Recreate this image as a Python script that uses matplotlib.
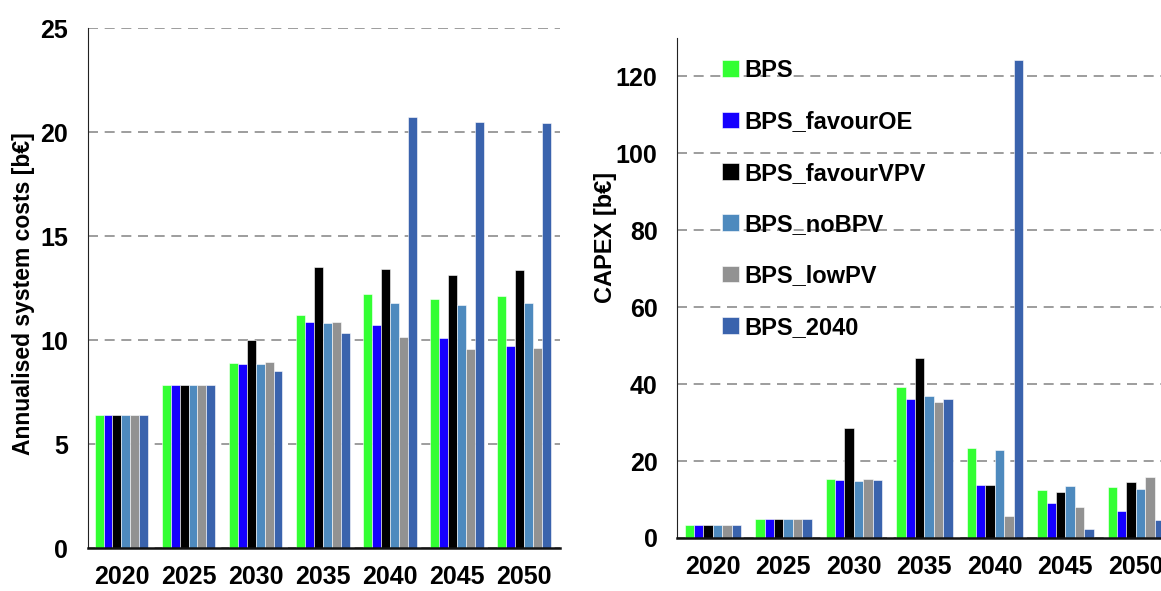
import matplotlib
matplotlib.use("Agg")
import matplotlib.pyplot as plt
import numpy as np

years = ["2020", "2025", "2030", "2035", "2040", "2045", "2050"]
scenarios = ["BPS", "BPS_favourOE", "BPS_favourVPV", "BPS_noBPV", "BPS_lowPV", "BPS_2040"]
colors = ["#33FF33", "#1500FF", "#000000", "#4E8ABE", "#929292", "#3A63AD"]

# Annualised system costs [b€]
annual_BPS = [6.4, 7.83, 8.91, 11.21, 12.23, 12.01, 12.14]
annual_favourOE = [6.4, 7.83, 8.86, 10.89, 10.76, 10.11, 9.73]
annual_favourVPV = [6.4, 7.83, 10.0, 13.55, 13.41, 13.13, 13.39]
annual_noBPV = [6.4, 7.83, 8.84, 10.83, 11.81, 11.70, 11.79]
annual_lowPV = [6.4, 7.83, 8.95, 10.89, 10.18, 9.58, 9.64]
annual_2040 = [6.4, 7.83, 8.53, 10.36, 20.74, 20.49, 20.45]

# CAPEX [b€]
capex_BPS = [3.5, 4.9, 15.3, 39.2, 23.5, 12.5, 13.3]
capex_favourOE = [3.5, 4.9, 15.0, 36.0, 13.7, 9.1, 7.0]
capex_favourVPV = [3.5, 4.9, 28.5, 46.7, 13.7, 12.0, 14.5]
capex_noBPV = [3.5, 4.9, 14.8, 37.0, 22.8, 13.6, 12.7]
capex_lowPV = [3.5, 4.9, 15.4, 35.3, 5.7, 8.0, 15.8]
capex_2040 = [3.5, 4.9, 15.0, 36.0, 124.3, 2.4, 4.7]

annual = [annual_BPS, annual_favourOE, annual_favourVPV, annual_noBPV, annual_lowPV, annual_2040]
capex = [capex_BPS, capex_favourOE, capex_favourVPV, capex_noBPV, capex_lowPV, capex_2040]

plt.rcParams["font.family"] = ["Liberation Sans", "DejaVu Sans"]
plt.rcParams["font.weight"] = "bold"

fig = plt.figure(figsize=(11.61, 5.91), dpi=100)
ax1 = fig.add_axes([0.0754, 0.0721, 0.407, 0.880])
ax2 = fig.add_axes([0.5831, 0.0897, 0.4169, 0.8465])

bw = 0.8 / 6
x = np.arange(len(years))

def style(ax, data, ylim, yticks, xlim, ylabel, ylsize):
    for i, (vals, c) in enumerate(zip(data, colors)):
        ax.bar(x - 0.4 + bw * (i + 0.5), vals, width=bw, color=c,
               edgecolor="white", linewidth=0.4, label=scenarios[i], zorder=2)
    ax.set_ylim(*ylim)
    ax.set_xlim(*xlim)
    ax.set_yticks(yticks)
    ax.set_xticks(x)
    ax.set_xticklabels(years)
    ax.tick_params(axis="both", length=0, labelsize=18, pad=12)
    ax.tick_params(axis="y", pad=14)
    for lab in ax.get_xticklabels() + ax.get_yticklabels():
        lab.set_fontweight("bold")
    ax.yaxis.grid(True, linestyle=(0, (6, 4)), color="#8C8C8C", linewidth=1.2, zorder=0)
    ax.set_axisbelow(True)
    for s in ["top", "right"]:
        ax.spines[s].set_visible(False)
    ax.spines["left"].set_color("#222222")
    ax.spines["bottom"].set_color("#111111")
    ax.spines["bottom"].set_linewidth(1.8)
    ax.set_ylabel(ylabel, fontsize=ylsize, fontweight="bold")

style(ax1, annual, (0, 25), [0, 5, 10, 15, 20, 25], (-0.505, 6.536),
      "Annualised system costs [b€]", 16.5)
style(ax2, capex, (0, 130), [0, 20, 40, 60, 80, 100, 120], (-0.508, 6.357),
      "CAPEX [b€]", 17)
ax1.yaxis.set_label_coords(-0.112, 0.49)
ax2.yaxis.set_label_coords(-0.124, 0.6)

leg = ax2.legend(loc="upper left", bbox_to_anchor=(0.05, 1.0), frameon=False,
                 handlelength=0.7, handleheight=0.7, handletextpad=0.25,
                 labelspacing=1.2, prop={"weight": "bold", "size": 17})

fig.savefig("out.png", dpi=100)
